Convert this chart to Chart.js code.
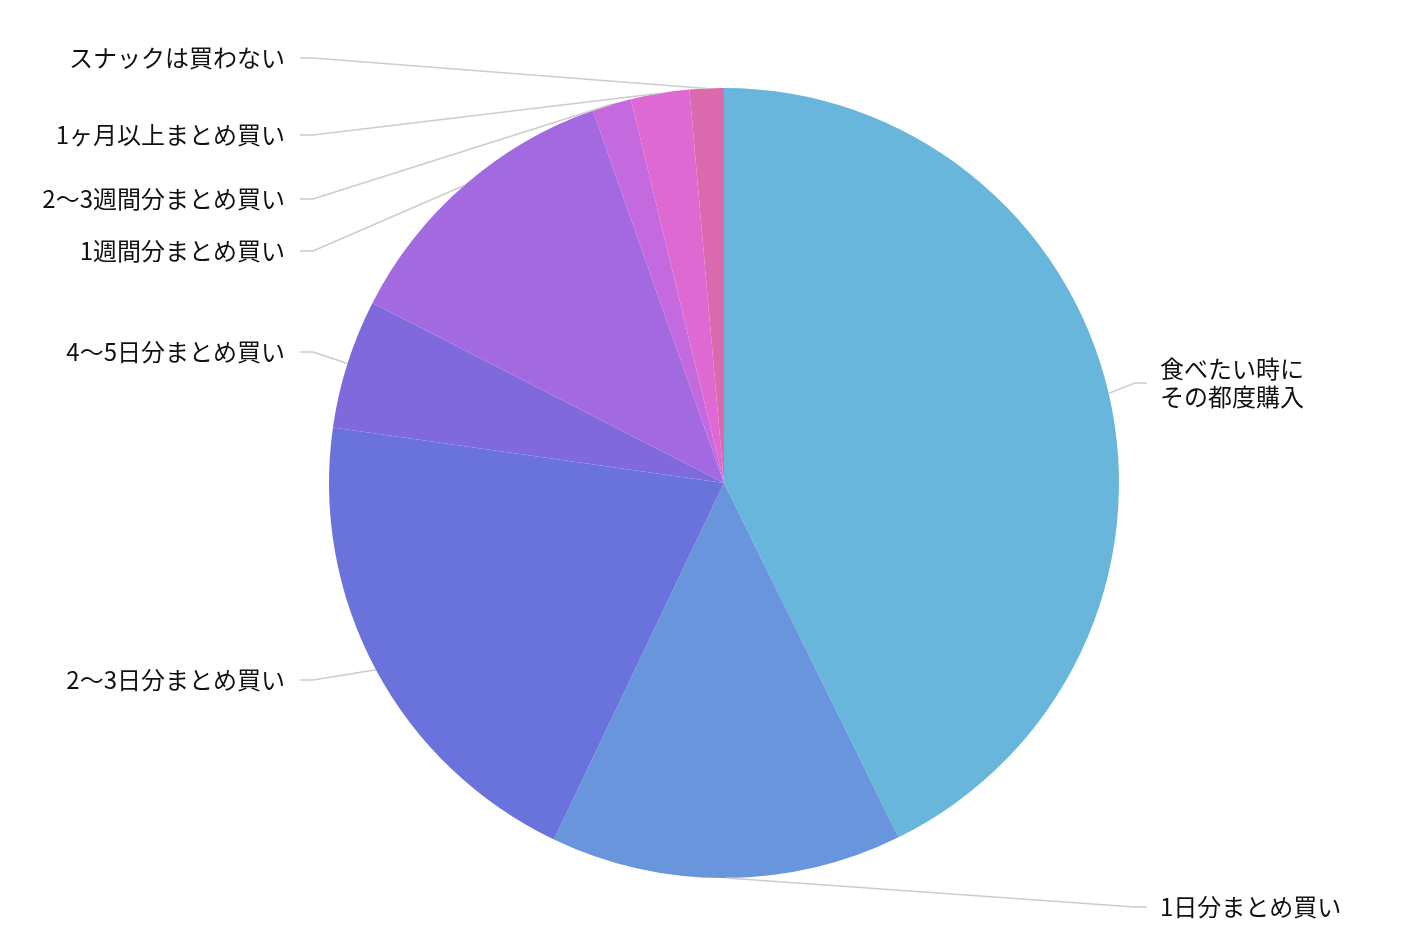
<!DOCTYPE html>
<html>
<head>
<meta charset="utf-8">
<script src="https://cdn.jsdelivr.net/npm/chart.js@4"></script>
<style>
  html, body { margin: 0; padding: 0; background: #fff; }
  #wrap { width: 1406px; height: 934px; }
</style>
</head>
<body>
<div id="wrap"><canvas id="pie"></canvas></div>
<script>
const labels = ['食べたい時に\nその都度購入', '1日分まとめ買い', '2〜3日分まとめ買い', '4〜5日分まとめ買い',
  '1週間分まとめ買い', '2〜3週間分まとめ買い', '1ヶ月以上まとめ買い', 'スナックは買わない'];
const values = [42.8, 14.4, 20.2, 5.3, 12.1, 1.6, 2.4, 1.4];
const colors = ['#69b6dc', '#6995dc', '#6a73dc', '#8069dc', '#a269e0', '#c56ade', '#de69d2', '#db69ae'];
// label row positions (layout only)
const labelY = [383, 907, 680, 352, 251, 199, 135, 58];

const leaderLabels = {
  id: 'leaderLabels',
  afterDraw(chart) {
    const ctx = chart.ctx;
    const arcs = chart.getDatasetMeta(0).data;
    ctx.save();
    ctx.font = '24px "Noto Sans CJK JP", "Noto Sans", sans-serif';
    ctx.textBaseline = 'middle';
    arcs.forEach((arc, i) => {
      const mid = (arc.startAngle + arc.endAngle) / 2;
      const px = arc.x + Math.cos(mid) * arc.outerRadius;
      const py = arc.y + Math.sin(mid) * arc.outerRadius;
      const right = Math.cos(mid) > 0;
      const y = labelY[i];
      const ex = right ? 1135 : 313;
      const tx = right ? 1147 : 300;
      ctx.strokeStyle = '#cccccc';
      ctx.lineWidth = 1.5;
      ctx.beginPath();
      ctx.moveTo(px, py);
      ctx.lineTo(ex, y);
      ctx.lineTo(tx, y);
      ctx.stroke();
      ctx.fillStyle = '#111';
      ctx.textAlign = right ? 'left' : 'right';
      const lines = labels[i].split('\n');
      const lx = right ? 1160 : 285;
      lines.forEach((ln, k) => {
        ctx.fillText(ln, lx, y + (k - (lines.length - 1) / 2) * 28);
      });
    });
    ctx.restore();
  }
};

new Chart(document.getElementById('pie'), {
  type: 'pie',
  data: {
    labels: labels,
    datasets: [{
      data: values,
      backgroundColor: colors,
      borderWidth: 0
    }]
  },
  options: {
    responsive: true,
    maintainAspectRatio: false,
    animation: false,
    layout: { padding: { left: 329, right: 287, top: 88, bottom: 56 } },
    plugins: { legend: { display: false }, tooltip: { enabled: false } }
  },
  plugins: [leaderLabels]
});
</script>
</body>
</html>
